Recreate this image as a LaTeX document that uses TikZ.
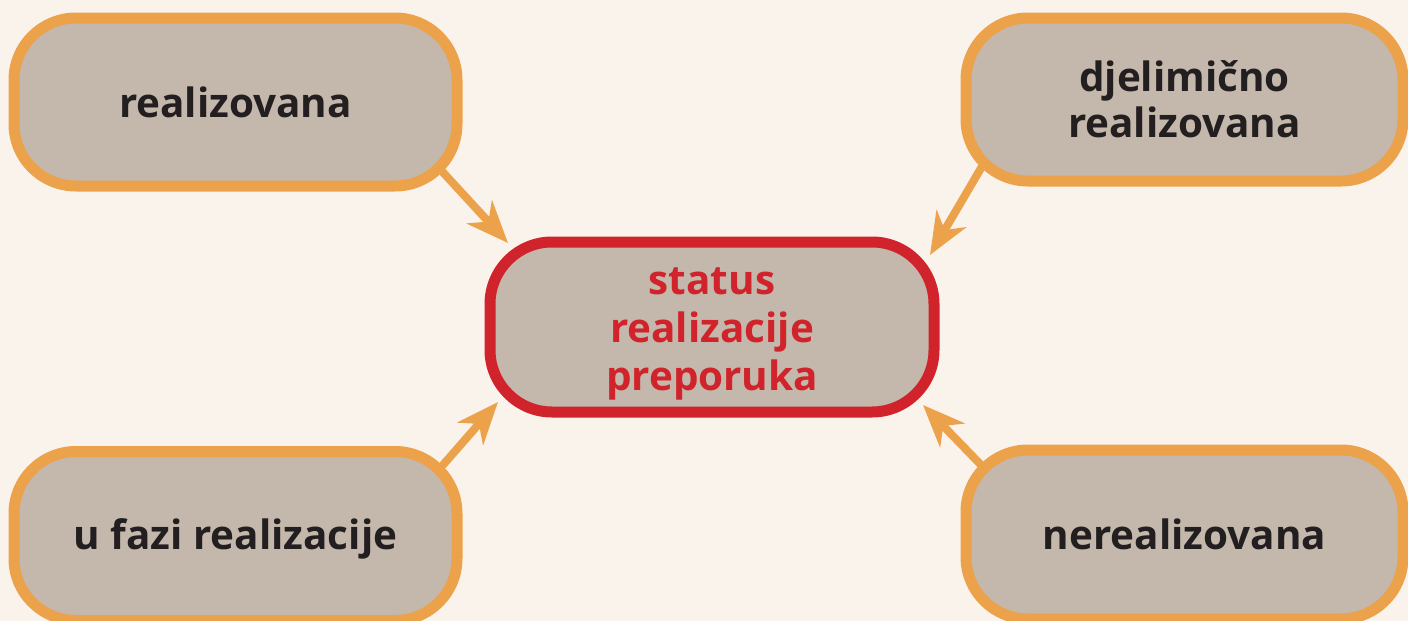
\documentclass[tikz,border=0pt]{standalone}
\usepackage{fontspec}
\setmainfont{Open Sans}
\usepackage{tikz}
\usetikzlibrary{arrows.meta}

\definecolor{paper}{HTML}{FAF3EC}
\definecolor{boxfill}{HTML}{C3B8AB}
\definecolor{ochre}{HTML}{EBA24B}
\definecolor{signal}{HTML}{D1232B}
\definecolor{ink}{HTML}{231F20}

\tikzset{
  status/.style={draw=ochre, fill=boxfill, line width=5.5pt, rounded corners=31pt,
    outer sep=0pt, inner sep=0pt, align=center, text=ink,
    font=\fontsize{20.2}{23}\selectfont\bfseries},
  hub/.style={status, draw=signal, text=signal,
    font=\fontsize{20.2}{24}\selectfont\bfseries},
  feed/.style={draw=ochre, line width=4pt,
    -{Stealth[length=21pt, width=17pt, inset=6.5pt]}}
}

\begin{document}
\begin{tikzpicture}[x=0.5pt, y=-0.5pt]

  % Canvas
  \fill[paper] (0,0) rectangle (1408,621);
  \useasboundingbox (0,0) rectangle (1408,621);

  % Central node
  \node[hub, minimum width=222pt, minimum height=85pt] (st) at (712,327)
    {\rule{0pt}{20pt}status\\realizacije\\preporuka};

  % Status categories
  \node[status, minimum width=221.5pt, minimum height=84pt]   (done)  at (235.5,102)  {realizovana};
  \node[status, minimum width=218.5pt, minimum height=81.5pt] (part)  at (1184.5,99.5) {djelimično\\realizovana};
  \node[status, minimum width=221.5pt, minimum height=84.5pt] (doing) at (235.5,536) {\rule{0pt}{18pt}u fazi realizacije};
  \node[status, minimum width=218.5pt, minimum height=84.5pt] (none)  at (1184.5,534.5) {nerealizovana};

  % Arrow tips
  \coordinate (tdone)  at (508,243);
  \coordinate (tpart)  at (930,255);
  \coordinate (tdoing) at (498,402);
  \coordinate (tnone)  at (923,405);

  % Edges
  \draw[feed] ([shift={(-18,-18)}]done.south east) -- (tdone);
  \draw[feed] ([shift={(18,-18)}]part.south west)  -- (tpart);
  \draw[feed] ([shift={(-18,18)}]doing.north east) -- (tdoing);
  \draw[feed] ([shift={(18,18)}]none.north west)   -- (tnone);

\end{tikzpicture}
\end{document}
